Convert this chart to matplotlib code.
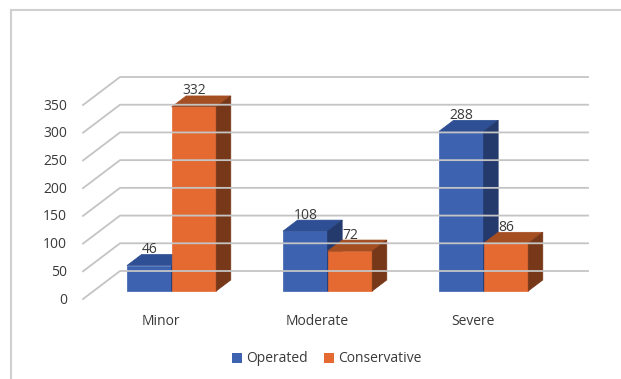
import matplotlib
matplotlib.use("Agg")
import matplotlib.pyplot as plt
from matplotlib.patches import Polygon, Patch
from matplotlib.lines import Line2D
from matplotlib.transforms import IdentityTransform

categories = ["Minor", "Moderate", "Severe"]
operated = [46, 108, 288]
conservative = [332, 72, 86]
series_names = ["Operated", "Conservative"]
yticks = [0, 50, 100, 150, 200, 250, 300, 350]

plt.rcParams["font.family"] = ["Open Sans", "DejaVu Sans"]
plt.rcParams["font.weight"] = 500
TEXT = "#3a3a3a"
GRID = "#c4c4c4"
FS = 10
faces = {
    "Operated": ("#3d62b0", "#2e4f94", "#243a6d"),
    "Conservative": ("#e46a32", "#a44e22", "#773819"),
}

fig = plt.figure(figsize=(6.21, 3.79), dpi=100)
W, H = 621, 379
# bar front plane sits a bit behind the floor front edge
ax = fig.add_axes([93.6 / W, 88 / H, 468 / W, 194 / H])
ax.set_xlim(-0.5, len(categories) - 0.5)
ax.set_ylim(0, 350)
ax.axis("off")

DX, DY = 37.0, 28.0   # full depth of the floor in pixels
d_front, d_back = 0.286, 0.68   # bar front/back depth fractions


def proj(x, v, d):
    px, py = ax.transData.transform((x, v))
    return (px + (d - d_front) * DX, py + (d - d_front) * DY)


ident = IdentityTransform()

# frame lines (left and top)
fig.add_artist(Line2D([11 / W, 11 / W], [0, 1 - 10 / H], color="#d0d0d0", lw=1.5))
fig.add_artist(Line2D([11 / W, 1], [1 - 10 / H, 1 - 10 / H], color="#d0d0d0", lw=1.5))

# gridlines: slanted floor part + back wall
x_left, x_right = -0.5, len(categories) - 0.5
for v in yticks:
    a = proj(x_left, v, 0)
    b = proj(x_left, v, 1)
    c = proj(x_right, v, 1)
    fig.add_artist(Line2D([a[0], b[0], c[0]], [a[1], b[1], c[1]], transform=ident,
                          color=GRID, lw=1.3))
    fig.text(a[0] - 16, a[1] - 1, str(v), transform=ident, ha="right", va="center",
             fontsize=FS, color=TEXT)

bw = 0.286
for i, cat in enumerate(categories):
    for j, (name, vals) in enumerate(zip(series_names, [operated, conservative])):
        v = vals[i]
        x0 = i - bw + j * bw
        x1 = x0 + bw
        front_c, top_c, side_c = faces[name]
        front = [proj(x0, 0, d_front), proj(x1, 0, d_front), proj(x1, v, d_front), proj(x0, v, d_front)]
        top = [proj(x0, v, d_front), proj(x1, v, d_front), proj(x1, v, d_back), proj(x0, v, d_back)]
        side = [proj(x1, 0, d_front), proj(x1, 0, d_back), proj(x1, v, d_back), proj(x1, v, d_front)]
        for pts, col in [(front, front_c), (top, top_c), (side, side_c)]:
            fig.add_artist(Polygon(pts, closed=True, transform=ident, facecolor=col,
                                   edgecolor=col, lw=0.5))
        ty = proj((x0 + x1) / 2, v, d_back)[1]
        tx = proj((x0 + x1) / 2, v, d_front)[0]
        fig.text(tx, ty + 5, str(v), transform=ident, ha="center", va="center",
                 fontsize=FS, color=TEXT)
    lx, ly = proj(i, 0, 0)
    fig.text(lx, ly - 22, cat, transform=ident, ha="center", va="center",
             fontsize=FS, color=TEXT)

handles = [Patch(facecolor=faces[n][0], edgecolor="none") for n in series_names]
fig.legend(handles, series_names, loc="center", bbox_to_anchor=(327 / W, 1 - 359 / H),
           ncol=2, frameon=False, fontsize=FS, labelcolor=TEXT, handlelength=0.7,
           handleheight=0.7, handletextpad=0.3, columnspacing=1.2)

fig.savefig("out.png", dpi=100, facecolor="white")
